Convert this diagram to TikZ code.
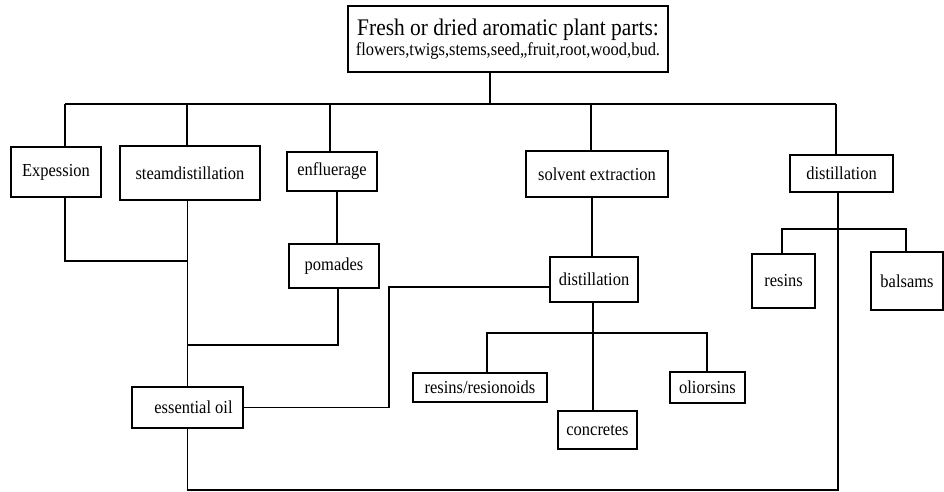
\documentclass[tikz,border=0pt]{standalone}
\usepackage{fontspec}
\setmainfont{Liberation Serif}[FakeStretch=0.9]
\usepackage{tikz}
\usetikzlibrary{positioning}

\begin{document}
\begin{tikzpicture}[x=1pt,y=-1pt,line width=1.1pt,
  box/.style={draw,inner sep=0pt,font=\fontsize{18.3}{20}\selectfont}]
  \useasboundingbox (0,0) rectangle (944,492);
  \node[box,minimum width=320,minimum height=66,align=center] (top) at (508,39)
    {{\fontsize{23.8}{22}\selectfont Fresh or dried aromatic plant parts:}\\[0pt]flowers,twigs,stems,seed,,fruit,root,wood,bud.};
  \node[box,minimum width=90,minimum height=50] (expession) at (56,172) {Expession};
  \node[box,minimum width=140,minimum height=54] (steam) at (190,173) {steamdistillation};
  \node[box,minimum width=90,minimum height=39] (enfl) at (332,171.5) {enfluerage};
  \node[box,minimum width=90,minimum height=44] (pomades) at (334,266) {pomades};
  \node[box,minimum width=142,minimum height=46] (solvent) at (597,174) {solvent extraction};
  \node[box,minimum width=103,minimum height=37] (distR) at (841.5,173.5) {distillation};
  \node[box,minimum width=88,minimum height=45] (distM) at (594,279.5) {distillation};
  \node[box,minimum width=63,minimum height=54] (resins) at (783.5,281) {resins};
  \node[box,minimum width=72,minimum height=58] (balsams) at (907,281) {balsams};
  \node[box,minimum width=111,minimum height=41] (essential) at (187.5,407.5) {\hspace*{12pt}essential oil};
  \node[box,minimum width=134,minimum height=29] (resinoids) at (480,387.5) {resins/resionoids};
  \node[box,minimum width=79,minimum height=38] (concretes) at (597.5,430) {concretes};
  \node[box,minimum width=75,minimum height=31] (oliorsins) at (707.5,387.5) {oliorsins};

  \coordinate (busL) at (65,104);
  \coordinate (busR) at (836,104);
  \coordinate (k) at (389,287);
  \draw (busL) -- (busR);
  \draw (490,0 |- top.south) -- (490,104);
  \foreach \x/\n in {65/expession,187/steam,330/enfl,591/solvent,836/distR}
    \draw (\x,104) -- (\x,104 |- \n.north);
  \draw (steam.south -| essential.north) -- (essential.north);
  \draw (65,0 |- expession.south) |- (187,261);
  \draw (337,0 |- enfl.south) -- (337,0 |- pomades.north);
  \draw (338,0 |- pomades.south) |- (187,345);
  \draw (distM.west |- k) -- (k) |- (essential.east);
  \draw (592,0 |- solvent.south) -- (592,0 |- distM.north);
  \draw (593,0 |- distM.south) -- (593,0 |- concretes.north);
  \draw (487,0 |- resinoids.north) |- (707,333) -- (707,0 |- oliorsins.north);
  \draw (838,0 |- distR.south) |- (essential.south |- 0,490) -- (essential.south);
  \draw (782,0 |- resins.north) |- (906,229) -- (906,0 |- balsams.north);
\end{tikzpicture}
\end{document}
